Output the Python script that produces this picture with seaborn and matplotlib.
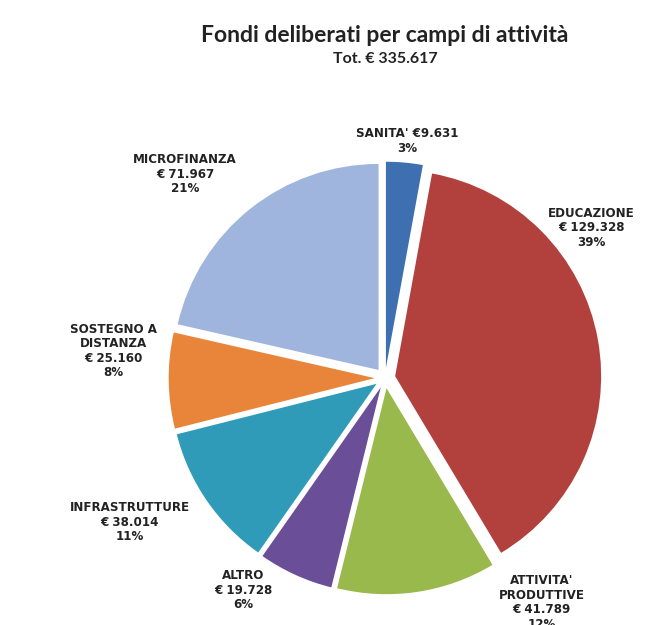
import matplotlib
matplotlib.use("Agg")
import matplotlib.pyplot as plt
import seaborn as sns

# data (euro)
categories = ["SANITA'", "EDUCAZIONE", "ATTIVITA'\nPRODUTTIVE", "ALTRO",
              "INFRASTRUTTURE", "SOSTEGNO A\nDISTANZA", "MICROFINANZA"]
values = [9631, 129328, 41789, 19728, 38014, 25160, 71967]
percents = [3, 39, 12, 6, 11, 8, 21]
colors = ["#3E6FB0", "#B2403C", "#9AB94D", "#6B4E98", "#2F9BB8", "#E9853A", "#A0B5DD"]
title = "Fondi deliberati per campi di attività"
subtitle = "Tot. € 335.617"

# label centres in pie units (layout only)
label_pos = [(0.11, 1.15), (1.0, 0.73), (0.76, -1.09), (-0.69, -1.03),
             (-1.24, -0.70), (-1.32, 0.13), (-0.97, 0.99)]

sns.set_theme(style="white")
plt.rcParams['font.family'] = ['DejaVu Sans']


def euro(v):
    return "€ " + f"{v:,}".replace(",", ".")


labels = []
for i, (name, v, p) in enumerate(zip(categories, values, percents)):
    if i == 0:
        labels.append(f"{name} {euro(v).replace(' ', '')}\n{p}%")
    else:
        labels.append(f"{name}\n{euro(v)}\n{p}%")

fig = plt.figure(figsize=(6.48, 6.25), dpi=100)
ax = fig.add_axes([0, 0, 1, 1])

wedges, texts = ax.pie(values, colors=sns.color_palette(colors), startangle=90,
                       counterclock=False, explode=[0.05] * len(values),
                       labels=labels, labeldistance=1.2,
                       wedgeprops=dict(linewidth=0))

for t, (x, y) in zip(texts, label_pos):
    t.set_position((x, y))
    t.set_ha("center")
    t.set_va("center")
    t.set_fontsize(8.6)
    t.set_fontweight("bold")
    t.set_color("#222222")
    t.set_linespacing(1.15)

# pixel layout: centre at (385, 378) px, radius 206 px
scale = 206.0
ax.set_xlim(-385 / scale, (648 - 385) / scale)
ax.set_ylim(-(625 - 378) / scale, 378 / scale)
ax.set_aspect("equal", adjustable="datalim")
ax.axis("off")

fig.text(385 / 648, 1 - 35 / 625, title, ha="center", va="center",
         fontsize=16.5, fontweight="bold", family=["Lato", "DejaVu Sans"], color="#222222")
fig.text(385 / 648, 1 - 59 / 625, subtitle, ha="center", va="center",
         fontsize=11.5, fontweight="bold", family=["Lato", "DejaVu Sans"], color="#222222")

fig.savefig("out.png", dpi=100, facecolor="white")
